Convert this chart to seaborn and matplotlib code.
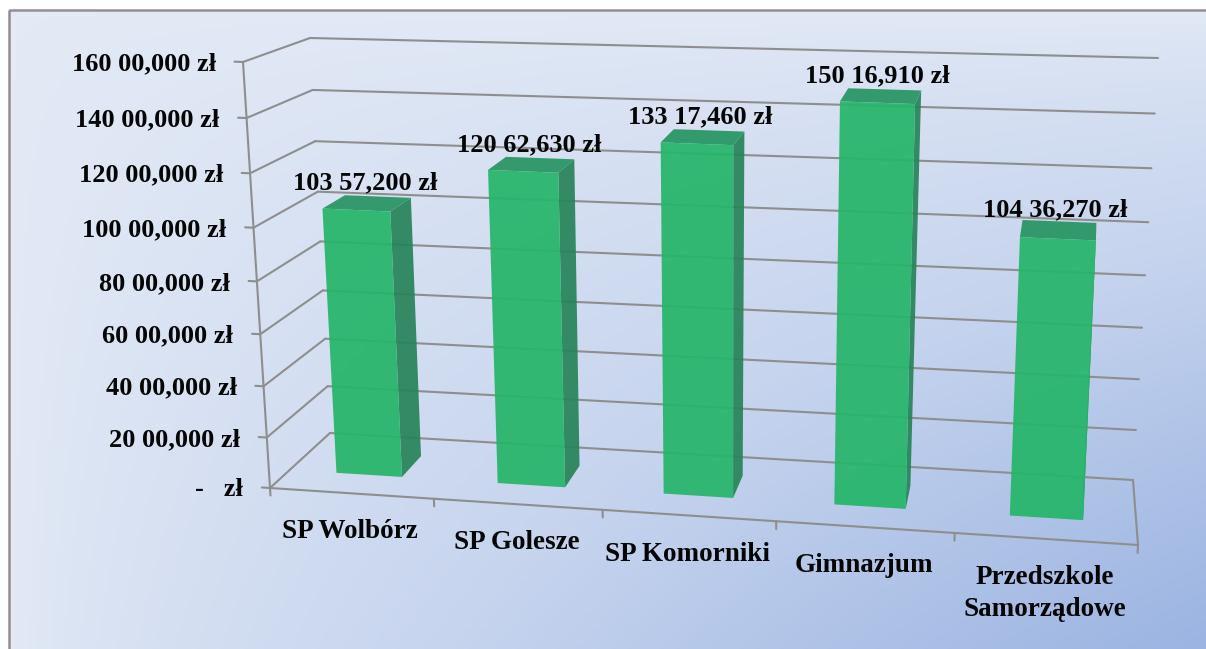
import matplotlib
matplotlib.use("Agg")
import matplotlib.pyplot as plt
import matplotlib.transforms as mtransforms
from matplotlib.colors import LinearSegmentedColormap
from matplotlib.patches import Polygon, Rectangle
import numpy as np
import seaborn as sns

schools = ["SP Wolbórz", "SP Golesze", "SP Komorniki", "Gimnazjum", "Przedszkole\nSamorządowe"]
values = [10357200, 12062630, 13317460, 15016910, 10436270]
value_labels = ["103 57,200 zł", "120 62,630 zł", "133 17,460 zł", "150 16,910 zł", "104 36,270 zł"]
tick_values = [0, 2000000, 4000000, 6000000, 8000000, 10000000, 12000000, 14000000, 16000000]
tick_labels = ["-   zł", "20 00,000 zł", "40 00,000 zł", "60 00,000 zł", "80 00,000 zł",
               "100 00,000 zł", "120 00,000 zł", "140 00,000 zł", "160 00,000 zł"]

W, H = 1206, 649
y_max = 16000000
line_col = "#8e8e8e"
front_col = "#26b56a"
side_col = "#27845a"
top_col = "#279563"
font = {"family": "Liberation Serif", "weight": "bold", "fontsize": 19, "color": "#050505"}

# box corners in image pixels: [z][v][u], z=0 back wall, z=1 front edge
corners = np.array([
    [[[330, 433], [1133, 480]], [[310, 38], [1158, 58]]],
    [[[270, 488], [1138, 545]], [[243, 62], [1160, 97]]],
], dtype=float)


def project(x, y, z):
    x, y = np.asarray(x, dtype=float), np.asarray(y, dtype=float)
    t = (x + 0.5) / 5
    u = (t - 0.07 * t * (1 - t))[..., None]
    v = y / y_max
    v = (v - 0.06 * v * (1 - v))[..., None]
    z = np.asarray(z, dtype=float)[..., None]
    low = (corners[:, 0, 0] * (1 - u)[..., None] + corners[:, 0, 1] * u[..., None])
    high = (corners[:, 1, 0] * (1 - u)[..., None] + corners[:, 1, 1] * u[..., None])
    plane = low * (1 - v)[..., None] + high * v[..., None]
    px = plane[..., 0, :] * (1 - z) + plane[..., 1, :] * z
    return np.column_stack([px[..., 0].ravel(), H - px[..., 1].ravel()])


class DepthTransform(mtransforms.Transform):
    input_dims = 2
    output_dims = 2

    def __init__(self, z):
        super().__init__()
        self.z = z

    def transform_non_affine(self, values):
        values = np.asarray(values, dtype=float)
        return project(values[:, 0], values[:, 1], np.full(len(values), self.z))


sns.set_theme(style="white")
fig = plt.figure(figsize=(W / 100, H / 100), dpi=100)

# background
bg = fig.add_axes([0, 0, 1, 1])
gx, gy = np.meshgrid(np.linspace(0, 1, 300), np.linspace(0, 1, 200))
cmap = LinearSegmentedColormap.from_list("bg", ["#e3eaf6", "#c6d4ee", "#9bb4e2"])
bg.imshow((gx * gy) ** 0.7, cmap=cmap, extent=(9, W, H, 10), aspect="auto", vmin=0, vmax=1)
bg.set_xlim(0, W)
bg.set_ylim(H, 0)
bg.set_axis_off()
bg.add_patch(Rectangle((9, 10), W, H, fill=False, ec="#909090", lw=1.8))

ax = fig.add_axes([0, 0, 1, 1], facecolor="none")
sns.barplot(x=schools, y=values, color=front_col, saturation=1, width=0.41, ax=ax)
ax.set_xlim(-0.5, 4.5)
ax.set_ylim(0, y_max)
ax.set_axis_off()

back = DepthTransform(0)
front = DepthTransform(1)
line_kw = {"color": line_col, "lw": 1.5, "zorder": 0.5, "clip_on": False, "solid_capstyle": "round"}

# walls
for tv, tl in zip(tick_values, tick_labels):
    ax.plot([-0.5, 4.5], [tv, tv], transform=back, **line_kw)
    pts = project(np.array([-0.5, -0.5]), np.array([tv, tv]), np.array([0.0, 1.0]))
    ax.plot(pts[:, 0], pts[:, 1], transform=mtransforms.IdentityTransform(), **line_kw)
    ax.plot([-0.55, -0.5], [tv, tv], transform=front, **line_kw)
    ax.annotate(tl, xy=(-0.5, tv), xycoords=front, xytext=(-27, -2), textcoords="offset pixels",
                ha="right", va="center", **font)
ax.plot([-0.5, -0.5], [0, y_max], transform=front, **line_kw)
ax.plot([-0.5, 4.5], [0, 0], transform=front, **line_kw)
pts = project(np.array([4.5, 4.5]), np.array([0, 0]), np.array([0.0, 1.0]))
ax.plot(pts[:, 0], pts[:, 1], transform=mtransforms.IdentityTransform(), **line_kw)
for i in range(6):
    ax.plot([i - 0.5, i - 0.5], [0, -300000], transform=front, **line_kw)

# bars: front faces come from seaborn, side and top from their sizes
z_f, z_b = 0.67, 0.3
for bar, lab, name in zip(ax.patches, value_labels, schools):
    x0, x1 = bar.get_x(), bar.get_x() + bar.get_width()
    h = bar.get_height()
    bar.set_transform(DepthTransform(z_f))
    bar.set_alpha(0.93)
    bar.set_edgecolor("none")
    bar.set_clip_on(False)
    bar.set_zorder(3)
    side = project(np.array([x1, x1, x1, x1]), np.array([0, h, h, 0]), np.array([z_f, z_f, z_b, z_b]))
    top = project(np.array([x0, x1, x1, x0]), np.array([h, h, h, h]), np.array([z_f, z_f, z_b, z_b]))
    ax.add_patch(Polygon(side, transform=mtransforms.IdentityTransform(), fc=side_col, ec="none",
                         alpha=0.93, zorder=2, clip_on=False))
    ax.add_patch(Polygon(top, transform=mtransforms.IdentityTransform(), fc=top_col, ec="none",
                         alpha=0.93, zorder=2, clip_on=False))
    ax.annotate(lab, xy=((x0 + x1) / 2, h), xycoords=DepthTransform(0.45), xytext=(-4, 19),
                textcoords="offset pixels", ha="center", va="center", zorder=5, **font)

# category labels
cat_font = dict(font, fontsize=19.5)
for i, name in enumerate(schools):
    ax.annotate(name, xy=(i, 0), xycoords=front, xytext=(-1, -26), textcoords="offset pixels",
                ha="center", va="top", linespacing=1.35, **cat_font)

fig.savefig("out.png", dpi=100)
